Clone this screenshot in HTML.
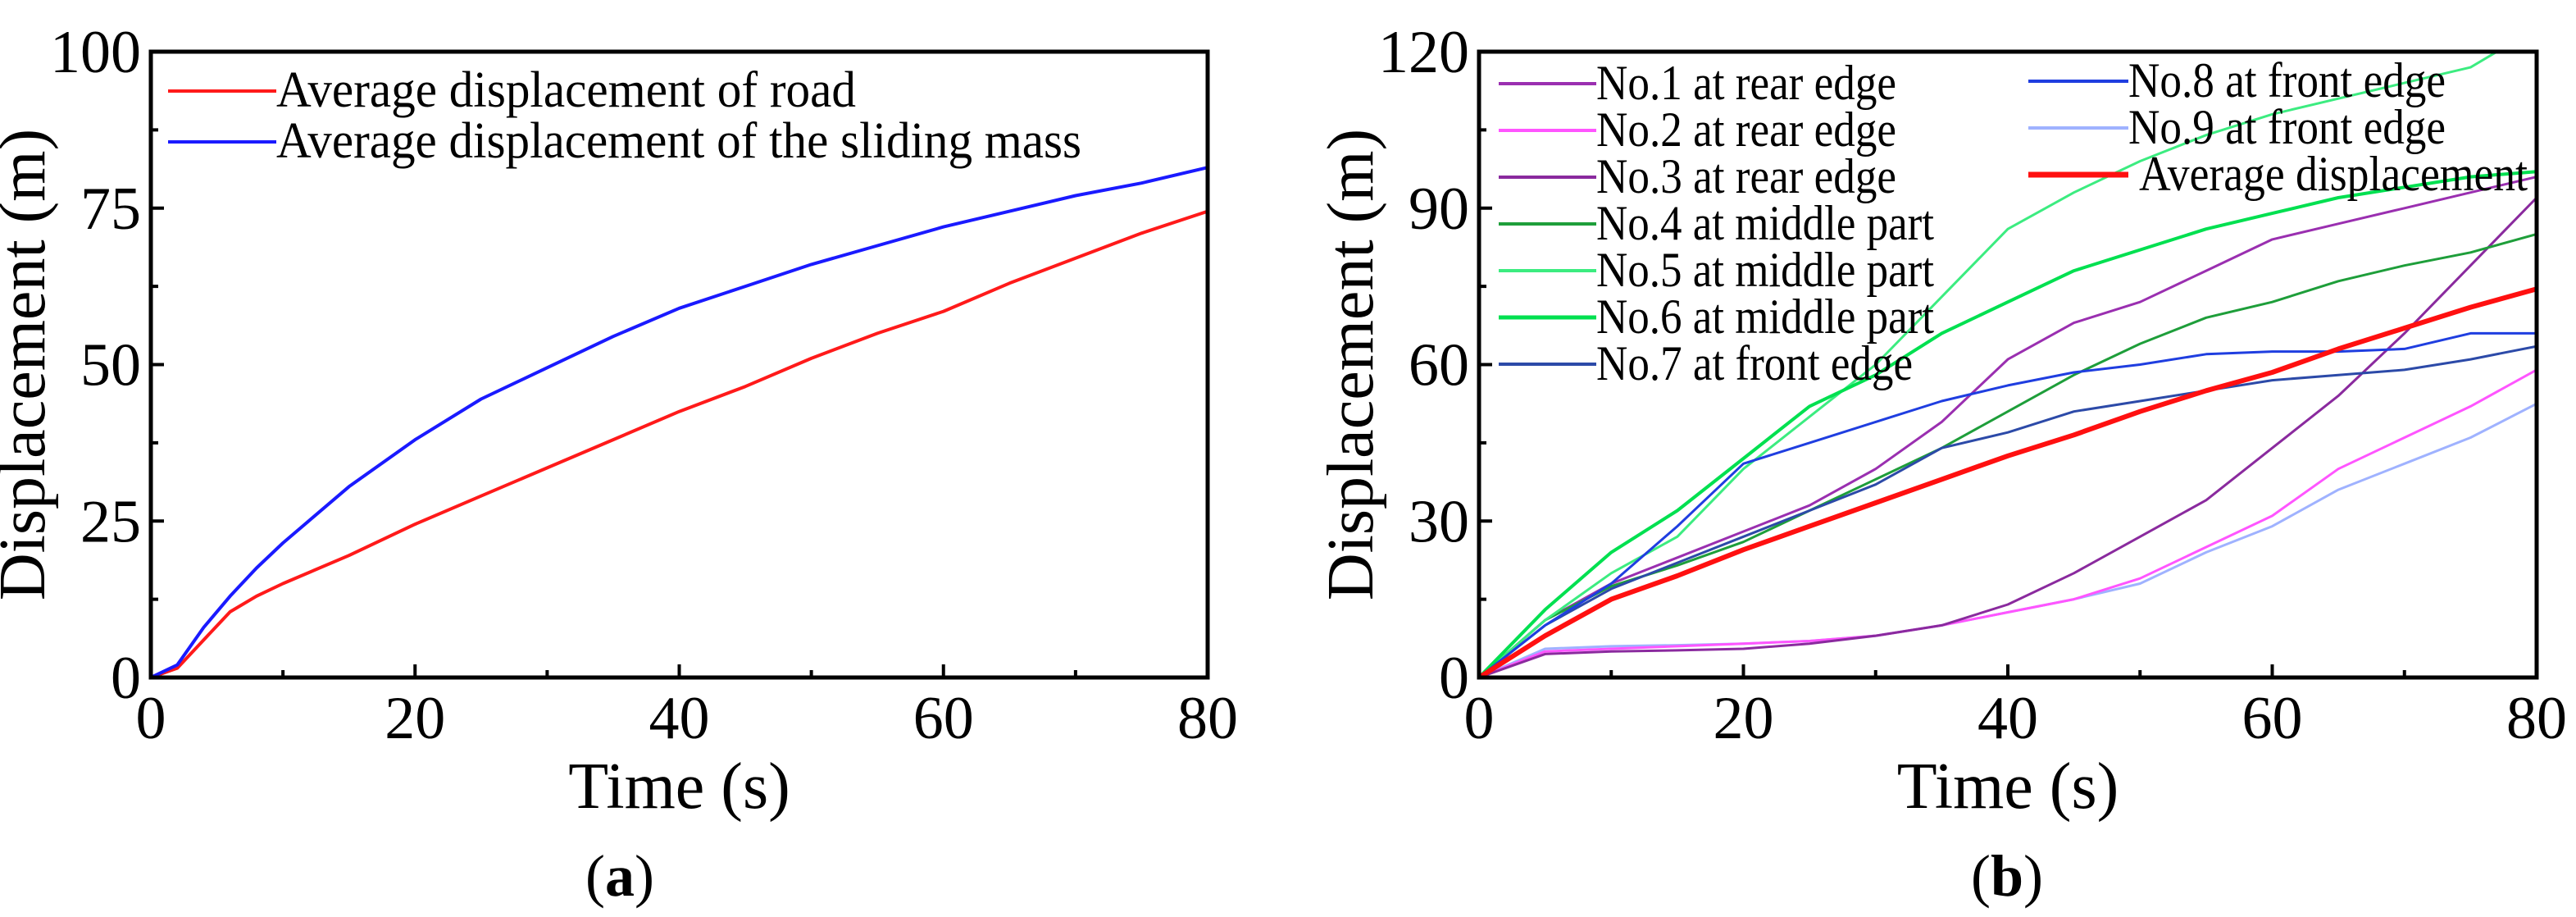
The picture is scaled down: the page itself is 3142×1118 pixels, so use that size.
<!DOCTYPE html>
<html><head><meta charset="utf-8"><style>
html,body{margin:0;padding:0;background:#fff;}
svg, svg text{font-family:"Liberation Serif","DejaVu Serif","Times New Roman",serif;}
</style></head><body>
<svg id="fig" width="3142" height="1113" viewBox="0 0 3142 1113" xmlns="http://www.w3.org/2000/svg">
<g id="chartA"></g>
<g id="chartB"></g>
<text x="756" y="1092" font-size="72" text-anchor="middle" font-family="Liberation Serif, serif">(<tspan font-weight="bold">a</tspan>)</text>
<text x="2448" y="1092" font-size="72" text-anchor="middle" font-family="Liberation Serif, serif">(<tspan font-weight="bold">b</tspan>)</text>
</svg>
<script>
// ---- Chart A data ----
const timeA = [0,2,4,6,8,10,15,20,25,30,35,40,45,50,55,60,65,70,75,80];
const roadA = [0,1.5,6,10.5,13,15,19.5,24.5,29,33.5,38,42.5,46.5,51,55,58.5,63,67,71,74.5];
const massA = [0,2,8,13,17.5,21.5,30.5,38,44.5,49.5,54.5,59,62.5,66,69,72,74.5,77,79,81.5];
const xTicksA = [0,20,40,60,80];
const yTicksA = [0,25,50,75,100];

// ---- Chart B data ----
const timeB = [0,5,10,15,20,25,30,35,40,45,50,55,60,65,70,75,80];
const no1 = [0,11,18,23,28,33,40,49,61,68,72,78,84,87,90,93,96];
const no2 = [0,5,5.5,6,6.5,7,8,10,12.5,15,19,25,31,40,46,52,59];
const no3 = [0,4.5,5,5.2,5.5,6.5,8,10,14,20,27,34,44,54,66,79,92];
const no4 = [0,11,17.5,21.5,26,32,38,44,51,58,64,69,72,76,79,81.5,85];
const no5t = [0,5,10,15,20,25,30,35,40,45,50,55,60,65,70,75,77];
const no5 = [0,11,20,27,40,50,60,73,86,93,99,104,108,111,114,117,120];
const no6 = [0,13,24,32,42,52,58,66,72,78,82,86,89,92,94,96,97];
const no7 = [0,10,17,22,27,32,37,44,47,51,53,55,57,58,59,61,63.5];
const no8 = [0,10,18,29,41,45,49,53,56,58.5,60,62,62.5,62.5,63,66,66];
const no9 = [0,5.5,6,6.2,6.5,7,8,10,12.5,15,18,24,29,36,41,46,52.5];
const avgB = [0,8,15,19.5,24.5,29,33.5,38,42.5,46.5,51,55,58.5,63,67,71,74.5];
const xTicksB = [0,20,40,60,80];
const yTicksB = [0,30,60,90,120];

const NS = "http://www.w3.org/2000/svg";
const FF = "Liberation Serif, DejaVu Serif, serif";
function mk(parent, tag, attrs){
  const e = document.createElementNS(NS, tag);
  for (const k in attrs) e.setAttribute(k, attrs[k]);
  if (tag === 'text') e.setAttribute('font-family', FF);
  parent.appendChild(e); return e;
}
const top_ = 63, bot = 826;

function axes(g, L, R, xmax, ymax, xt, yt, yMinorStep, prefix){
  const sx = v => L + (R-L)*v/xmax;
  const sy = v => bot - (bot-top_)*v/ymax;
  for (let v=0; v<=xmax; v+=10){
    const major = xt.includes(v);
    const t = mk(g,'line',{x1:sx(v),x2:sx(v),y1:bot,y2:bot-(major?16:9),stroke:'#000','stroke-width':4});
    
    
  }
  for (let v=0; v<=ymax+0.01; v+=yMinorStep){
    const major = yt.some(a=>Math.abs(a-v)<0.01);
    const t = mk(g,'line',{x1:L,x2:L+(major?16:9),y1:sy(v),y2:sy(v),stroke:'#000','stroke-width':4});
    
    
  }
  xt.forEach(v=>{
    const t = mk(g,'text',{x:sx(v),y:900,'font-size':74,'text-anchor':'middle'});
    t.textContent = v;
    
    
  });
  yt.forEach(v=>{
    const t = mk(g,'text',{x:L-12,y:sy(v)+25,'font-size':74,'text-anchor':'end'});
    t.textContent = v;
    
    
  });
  const xt_ = mk(g,'text',{x:(L+R)/2,y:985,'font-size':80,'text-anchor':'middle'});
  xt_.textContent = 'Time (s)';
  
  
  const cx = L - 130;
  const yt_ = mk(g,'text',{x:0,y:0,'font-size':80,'text-anchor':'middle',transform:`translate(${cx},${(top_+bot)/2}) rotate(-90)`});
  yt_.textContent = 'Displacement (m)';
  
  
  return {sx, sy};
}
function series(g, sx, sy, xs, ys, color, w, name){
  const d = xs.map((x,i)=>(i?'L':'M')+sx(x).toFixed(1)+','+sy(ys[i]).toFixed(1)).join(' ');
  const p = mk(g,'path',{d, fill:'none', stroke:color, 'stroke-width':w, 'stroke-linejoin':'round'});
  
  
}
function legend(g, x1, x2, y, color, w, label, tx, len, fs, name){
  const l = mk(g,'line',{x1, x2, y1:y, y2:y, stroke:color, 'stroke-width':w});
  
  
  const t = mk(g,'text',{x:tx, y:y+19, 'font-size':fs, textLength:len, lengthAdjust:'spacingAndGlyphs'});
  t.textContent = label;
  
  
}

// Chart A
(function(){
  const g = document.getElementById('chartA');
  const L=184, R=1473;
  const clip = mk(g,'clipPath',{id:'clipA'}); mk(clip,'rect',{x:L,y:top_,width:R-L,height:bot-top_});
  const {sx,sy} = axes(g,L,R,80,100,xTicksA,yTicksA,12.5,'a-');
  const s = mk(g,'g',{'clip-path':'url(#clipA)'});
  series(s,sx,sy,timeA,roadA,'#ff1a1a',4,'road-displacement-line');
  series(s,sx,sy,timeA,massA,'#1a1aff',4,'sliding-mass-displacement-line');
  const f = mk(g,'rect',{x:L,y:top_,width:R-L,height:bot-top_,fill:'none',stroke:'#000','stroke-width':5});
   
  legend(g,205,337,111,'#ff1a1a',4,'Average displacement of road',337,707,62,'legend-road');
  legend(g,205,337,173,'#1a1aff',4,'Average displacement of the sliding mass',337,982,62,'legend-sliding-mass');
})();

// Chart B
(function(){
  const g = document.getElementById('chartB');
  const L=1804, R=3094;
  const clip = mk(g,'clipPath',{id:'clipB'}); mk(clip,'rect',{x:L,y:top_,width:R-L,height:bot-top_});
  const {sx,sy} = axes(g,L,R,80,120,xTicksB,yTicksB,15,'b-');
  const s = mk(g,'g',{'clip-path':'url(#clipB)'});
  const C = {n1:'#9a2fb0',n2:'#ff55ff',n3:'#8a2a9e',n4:'#1e9e3a',n5:'#3cec80',n6:'#00e050',n7:'#2c4aa8',n8:'#1f3ee0',n9:'#9fb2ff',avg:'#ff1010'};
  series(s,sx,sy,timeB,no9,C.n9,3,'no9-line');
  series(s,sx,sy,timeB,no2,C.n2,3,'no2-line');
  series(s,sx,sy,timeB,no3,C.n3,3,'no3-line');
  series(s,sx,sy,timeB,no1,C.n1,3,'no1-line');
  series(s,sx,sy,timeB,no4,C.n4,3,'no4-line');
  series(s,sx,sy,no5t,no5,C.n5,3,'no5-line');
  series(s,sx,sy,timeB,no6,C.n6,4,'no6-line');
  series(s,sx,sy,timeB,no7,C.n7,3,'no7-line');
  series(s,sx,sy,timeB,no8,C.n8,3,'no8-line');
  series(s,sx,sy,timeB,avgB,C.avg,6,'average-displacement-line');
  const f = mk(g,'rect',{x:L,y:top_,width:R-L,height:bot-top_,fill:'none',stroke:'#000','stroke-width':5});
   
  const fs=60;
  legend(g,1828,1947,102,C.n1,4,'No.1 at rear edge',1947,366,fs,'legend-no1');
  legend(g,1828,1947,159,C.n2,4,'No.2 at rear edge',1947,366,fs,'legend-no2');
  legend(g,1828,1947,216,C.n3,4,'No.3 at rear edge',1947,366,fs,'legend-no3');
  legend(g,1828,1947,273,C.n4,4,'No.4 at middle part',1947,412,fs,'legend-no4');
  legend(g,1828,1947,330,C.n5,4,'No.5 at middle part',1947,412,fs,'legend-no5');
  legend(g,1828,1947,387,C.n6,5,'No.6 at middle part',1947,412,fs,'legend-no6');
  legend(g,1828,1947,444,C.n7,4,'No.7 at front edge',1947,386,fs,'legend-no7');
  legend(g,2474,2596,99,C.n8,4,'No.8 at front edge',2596,387,fs,'legend-no8');
  legend(g,2474,2596,156,C.n9,4,'No.9 at front edge',2596,387,fs,'legend-no9');
  legend(g,2474,2596,213,C.avg,7,'Average displacement',2609,474,fs,'legend-average');
})();
</script>
</body></html>
